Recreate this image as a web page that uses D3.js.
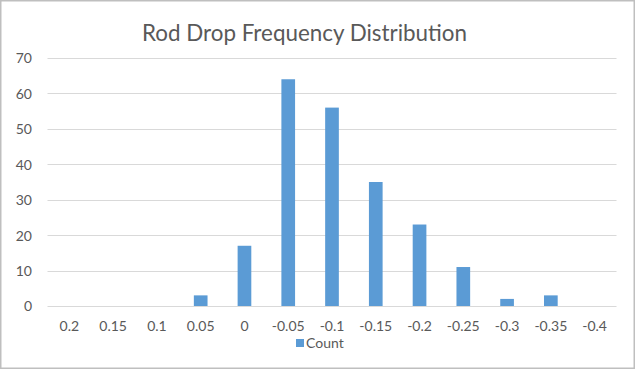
<!DOCTYPE html>
<html><head><meta charset="utf-8">
<script src="https://cdn.jsdelivr.net/npm/d3@7"></script>
<style>html,body{margin:0;padding:0;background:#fff;}</style>
</head><body>
<script>
const categories = ["0.2","0.15","0.1","0.05","0","-0.05","-0.1","-0.15","-0.2","-0.25","-0.3","-0.35","-0.4"];
const counts = [0,0,0,3,17,64,56,35,23,11,2,3,0];
const yTicks = [0,10,20,30,40,50,60,70];
const seriesName = "Count";
const titleText = "Rod Drop Frequency Distribution";

const W = 636, H = 370;
const font = "Lato, 'Open Sans', sans-serif";
const svg = d3.select("body").append("svg").attr("width", W).attr("height", H);
svg.append("rect").attr("x",0.75).attr("y",0.75).attr("width",W-2.5).attr("height",H-2.5)
  .attr("fill","#fff").attr("stroke","#BFBFBF").attr("stroke-width",1.5);

const x = d3.scaleBand().domain(categories).range([47.5, 616.5]).paddingInner(0.6875).paddingOuter(0.34375);
const y = d3.scaleLinear().domain([0,70]).range([306, 58]);

// gridlines
const g = svg.append("g");
g.selectAll("line.grid").data(yTicks).join("line")
  .attr("x1", 47.5).attr("x2", 616.5)
  .attr("y1", d => Math.round(y(d))+0.5).attr("y2", d => Math.round(y(d))+0.5)
  .attr("stroke", "#D9D9D9").attr("stroke-width", 1);

// y axis labels
const yAxis = d3.axisLeft(y).tickValues(yTicks).tickSize(0).tickPadding(0);
const ya = svg.append("g").attr("transform","translate(32,0)").call(yAxis);
ya.select(".domain").remove();
ya.selectAll("text").attr("font-family", font).attr("font-size", 14).attr("fill","#595959").attr("dy","0.35em");

// bars
svg.append("g").selectAll("rect").data(counts).join("rect")
  .attr("x", (d,i) => x(categories[i]))
  .attr("width", x.bandwidth())
  .attr("y", d => y(d))
  .attr("height", d => y(0) - y(d))
  .attr("fill", "#5B9BD5");

// x axis labels
const xAxis = d3.axisBottom(x).tickSize(0).tickPadding(0);
const xa = svg.append("g").attr("transform","translate(0,326)").call(xAxis);
xa.select(".domain").remove();
xa.selectAll("text").attr("font-family", font).attr("font-size", 14).attr("fill","#595959").attr("dy","0.35em");

// title
svg.append("text").attr("x", 304.5).attr("y", 41).attr("text-anchor","middle")
  .attr("font-family", font).attr("font-size", 22.4).attr("fill","#595959").text(titleText);

// legend
svg.append("rect").attr("x",296).attr("y",339).attr("width",8).attr("height",8).attr("fill","#5B9BD5");
svg.append("text").attr("x",306).attr("y",347.5).attr("font-family", font).attr("font-size",14)
  .attr("fill","#595959").text(seriesName);
</script>
</body></html>
